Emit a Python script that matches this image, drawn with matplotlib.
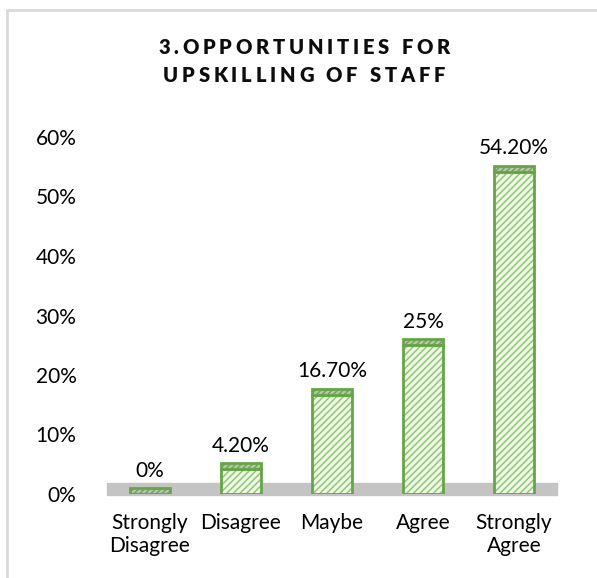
import matplotlib
matplotlib.use("Agg")
import matplotlib.pyplot as plt
from matplotlib.font_manager import FontProperties
from matplotlib.lines import Line2D
import numpy as np

categories = ["Strongly\nDisagree", "Disagree", "Maybe", "Agree", "Strongly\nAgree"]
values = [0.0, 4.2, 16.7, 25.0, 54.2]
value_labels = ["0%", "4.20%", "16.70%", "25%", "54.20%"]
yticks = [0, 10, 20, 30, 40, 50, 60]
ytick_labels = ["0%", "10%", "20%", "30%", "40%", "50%", "60%"]
title_lines = ["3.OPPORTUNITIES FOR", "UPSKILLING OF STAFF"]

FONT = "Lato"
FS = 15
plt.rcParams["font.family"] = [FONT, "DejaVu Sans"]
plt.rcParams["hatch.linewidth"] = 1.1

W, H = 597, 578
fig = plt.figure(figsize=(W / 100, H / 100), dpi=100)
ax = fig.add_axes([100 / W, 84 / H, 465 / W, 357 / H])

x = np.arange(len(categories))
bw = 0.43
face = "#eef7e8"
hatch_col = "#92c872"
edge = "#66a548"
top_face = "#b5c9a6"

# floor
ax.axhspan(-0.2, 1.8, xmin=0.015, xmax=0.983, color="#c4c4c4", zorder=1, clip_on=False)

# front faces (hatch layer + outline layer)
ax.bar(x, values, bw, color=face, edgecolor=hatch_col, hatch="/////", linewidth=0, zorder=2)
ax.bar(x, values, bw, fill=False, edgecolor=edge, linewidth=2.0, zorder=3)
# top faces
top_h = 1.0
ax.bar(x, [top_h] * len(x), bw, bottom=values, color=top_face, edgecolor="#7a9e66",
       hatch="//////", linewidth=0, zorder=2)
ax.bar(x, [top_h] * len(x), bw, bottom=values, fill=False, edgecolor=edge, linewidth=2.0, zorder=3)

for xi, v, lab in zip(x, values, value_labels):
    ax.annotate(lab, (xi, v), xytext=(0, 12.5), textcoords="offset points",
                ha="center", va="baseline", fontsize=FS, color="#000000")

ax.set_xlim(-0.549, 4.56)
ax.set_ylim(0, 60)
ax.set_yticks(yticks)
ax.set_yticklabels(ytick_labels, fontsize=FS)
ax.set_xticks(x)
ax.set_xticklabels(categories, fontsize=FS, linespacing=1.15)
ax.tick_params(axis="y", length=0, pad=17)
ax.tick_params(axis="x", length=0, pad=14)
for s in ax.spines.values():
    s.set_visible(False)

# border (top and left visible)
fig.add_artist(Line2D([7 / W, 7 / W, 1.0], [0.0, 1 - 10 / H, 1 - 10 / H],
                      transform=fig.transFigure, color="#d9d9d9", linewidth=2))

# letter-spaced title
fp = FontProperties(family=FONT, weight="heavy", size=14.5)
fig.canvas.draw()
renderer = fig.canvas.get_renderer()


def text_w(s):
    w, h, d = renderer.get_text_width_height_descent(s, fp, ismath=False)
    return w


spacing = 3.8
ref_w = text_w("H")
title_y = [48, 76]
for line, yc in zip(title_lines, title_y):
    adv = [text_w(line[:i] + "H") - ref_w for i in range(len(line) + 1)]
    total = adv[-1] + spacing * (len(line) - 1)
    x0 = 304 - total / 2
    for i, ch in enumerate(line):
        if ch == " ":
            continue
        px = x0 + adv[i] + spacing * i
        fig.text(px / W, 1 - yc / H, ch, fontproperties=fp, ha="left", va="center",
                 color="#0d0d0d")

fig.savefig("out.png", dpi=100)
